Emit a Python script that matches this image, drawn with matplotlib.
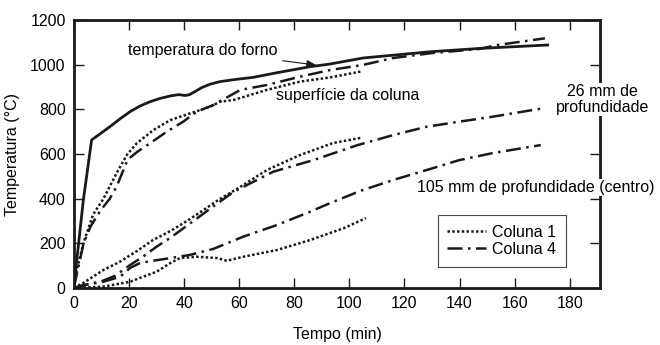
import matplotlib
matplotlib.use('Agg')
import matplotlib.pyplot as plt

plt.rcParams['font.family'] = ['Liberation Sans', 'DejaVu Sans']
plt.rcParams['font.size'] = 11.5

# ── DATA ────────────────────────────────────────────────────────────────────
furnace_t = [0, 3.4, 6.4, 10, 13, 17, 20.4, 24, 27.6, 31, 35, 38, 40.4, 42, 44, 46.5, 49.5, 53,
             58, 65, 73.7, 85.8, 93, 105, 129.5, 147.6, 172]
furnace_T = [10, 394, 663, 695, 722, 760, 790, 815, 834, 848, 860, 866, 862, 866, 880, 898, 913, 924,
             933, 943, 964, 991, 1003, 1030, 1058, 1073, 1088]

surf1_t = [0, 1, 3.4, 7, 10.7, 15.5, 19.2, 22.8, 28.8, 35, 42.2, 49.5, 53, 58, 70, 82, 93, 104]
surf1_T = [5, 80, 200, 330, 400, 515, 596, 648, 707, 752, 782, 812, 834, 842, 887, 924, 943, 969]

surf4_t = [0, 3.5, 6, 9.5, 13, 15.5, 17, 19.5, 23, 27.6, 33.7, 39.7, 44.6, 50.7, 60.4, 70, 82, 93,
           105, 116, 130, 147, 153.7, 171]
surf4_T = [5, 200, 275, 345, 400, 455, 500, 575, 610, 648, 700, 745, 790, 820, 887, 909, 946, 976,
           999, 1030, 1052, 1070, 1088, 1118]

d26_1_t = [0, 1.5, 3.3, 10.6, 16.7, 22.8, 28.7, 35, 41, 47, 52.4, 60, 70, 82, 94, 104]
d26_1_T = [0, 10, 22, 80, 118, 165, 215, 255, 300, 349, 394, 450, 528, 595, 649, 672]

d26_4_t = [0, 3, 10, 15, 20, 25, 30, 35, 40, 45, 50, 58, 72.4, 87, 103, 116, 128, 140, 152, 171]
d26_4_T = [0, 10, 30, 55, 100, 140, 185, 225, 270, 315, 360, 431, 521, 573, 640, 685, 722, 745, 767, 806]

d105_1_t = [0, 10.6, 20.4, 25, 30, 35, 38.5, 44.6, 52, 55.5, 61.5, 73.7, 85.8, 98, 106]
d105_1_T = [0, 6, 28, 50, 73, 112, 134, 140, 134, 122, 140, 170, 215, 268, 313]

d105_4_t = [0, 3.3, 10.6, 16.7, 20.4, 24, 28.7, 35, 42, 50.6, 61.5, 73.7, 85.8, 92, 104, 116, 128, 140, 152, 169.5]
d105_4_T = [0, 13, 28, 50, 90, 112, 122, 134, 148, 175, 230, 282, 342, 375, 435, 484, 528, 573, 604, 640]

x_ticks = [0, 20, 40, 60, 80, 100, 120, 140, 160, 180]
y_ticks = [0, 200, 400, 600, 800, 1000, 1200]

# ── STYLES ──────────────────────────────────────────────────────────────────
ink = '#1a1a1a'
dotted = (0, (1, 0.9))
dashdot = (0, (6, 2.2, 1, 2.2))
lw = 1.8

fig = plt.figure(figsize=(6.6, 3.45), dpi=100)
ax = fig.add_axes([0.1121, 0.1652, 0.7970, 0.7768])

ax.plot(furnace_t, furnace_T, color=ink, lw=2.0, solid_joinstyle='round')
ax.plot(surf1_t, surf1_T, color=ink, lw=lw, linestyle=dotted, label='Coluna 1')
ax.plot(surf4_t, surf4_T, color=ink, lw=lw, linestyle=dashdot, label='Coluna 4')
ax.plot(d26_1_t, d26_1_T, color=ink, lw=lw, linestyle=dotted)
ax.plot(d26_4_t, d26_4_T, color=ink, lw=lw, linestyle=dashdot)
ax.plot(d105_1_t, d105_1_T, color=ink, lw=lw, linestyle=dotted)
ax.plot(d105_4_t, d105_4_T, color=ink, lw=lw, linestyle=dashdot)

ax.set_xlim(0, 191)
ax.set_ylim(0, 1200)
ax.set_xticks(x_ticks)
ax.set_yticks(y_ticks)
ax.tick_params(direction='in', length=7, width=1, color=ink, top=True, right=True,
               labelsize=11.5, pad=6)
for s in ax.spines.values():
    s.set_linewidth(2)
    s.set_color(ink)

ax.set_xlabel('Tempo (min)', fontsize=11.5, labelpad=11)
ax.set_ylabel('Temperatura (°C)', fontsize=11.5, labelpad=7)

# annotations
ax.annotate('temperatura do forno', xy=(88, 998), xytext=(19.5, 1065),
            fontsize=11.5, va='center', ha='left',
            arrowprops=dict(arrowstyle='-|>,head_length=0.5,head_width=0.2',
                            color=ink, lw=0.8, shrinkA=2, shrinkB=0))
ax.text(73.5, 860, 'superfície da coluna', fontsize=11.5, va='center', ha='left')
ax.text(192, 845, '26 mm de\nprofundidade', fontsize=11.5, va='center', ha='center',
        linespacing=1.05, clip_on=False,
        bbox=dict(facecolor='white', edgecolor='none', pad=1))
ax.text(124.5, 450, '105 mm de profundidade (centro)', fontsize=11.5, va='center', ha='left',
        clip_on=False, bbox=dict(facecolor='white', edgecolor='none', pad=1))

leg = ax.legend(loc='lower right', bbox_to_anchor=(0.95, 0.05), frameon=True, fancybox=False,
                fontsize=11.5, handlelength=2.4, handletextpad=0.4, borderpad=0.6,
                labelspacing=0.15)
leg.get_frame().set_edgecolor(ink)
leg.get_frame().set_linewidth(0.8)

fig.savefig('out.png', dpi=100)
